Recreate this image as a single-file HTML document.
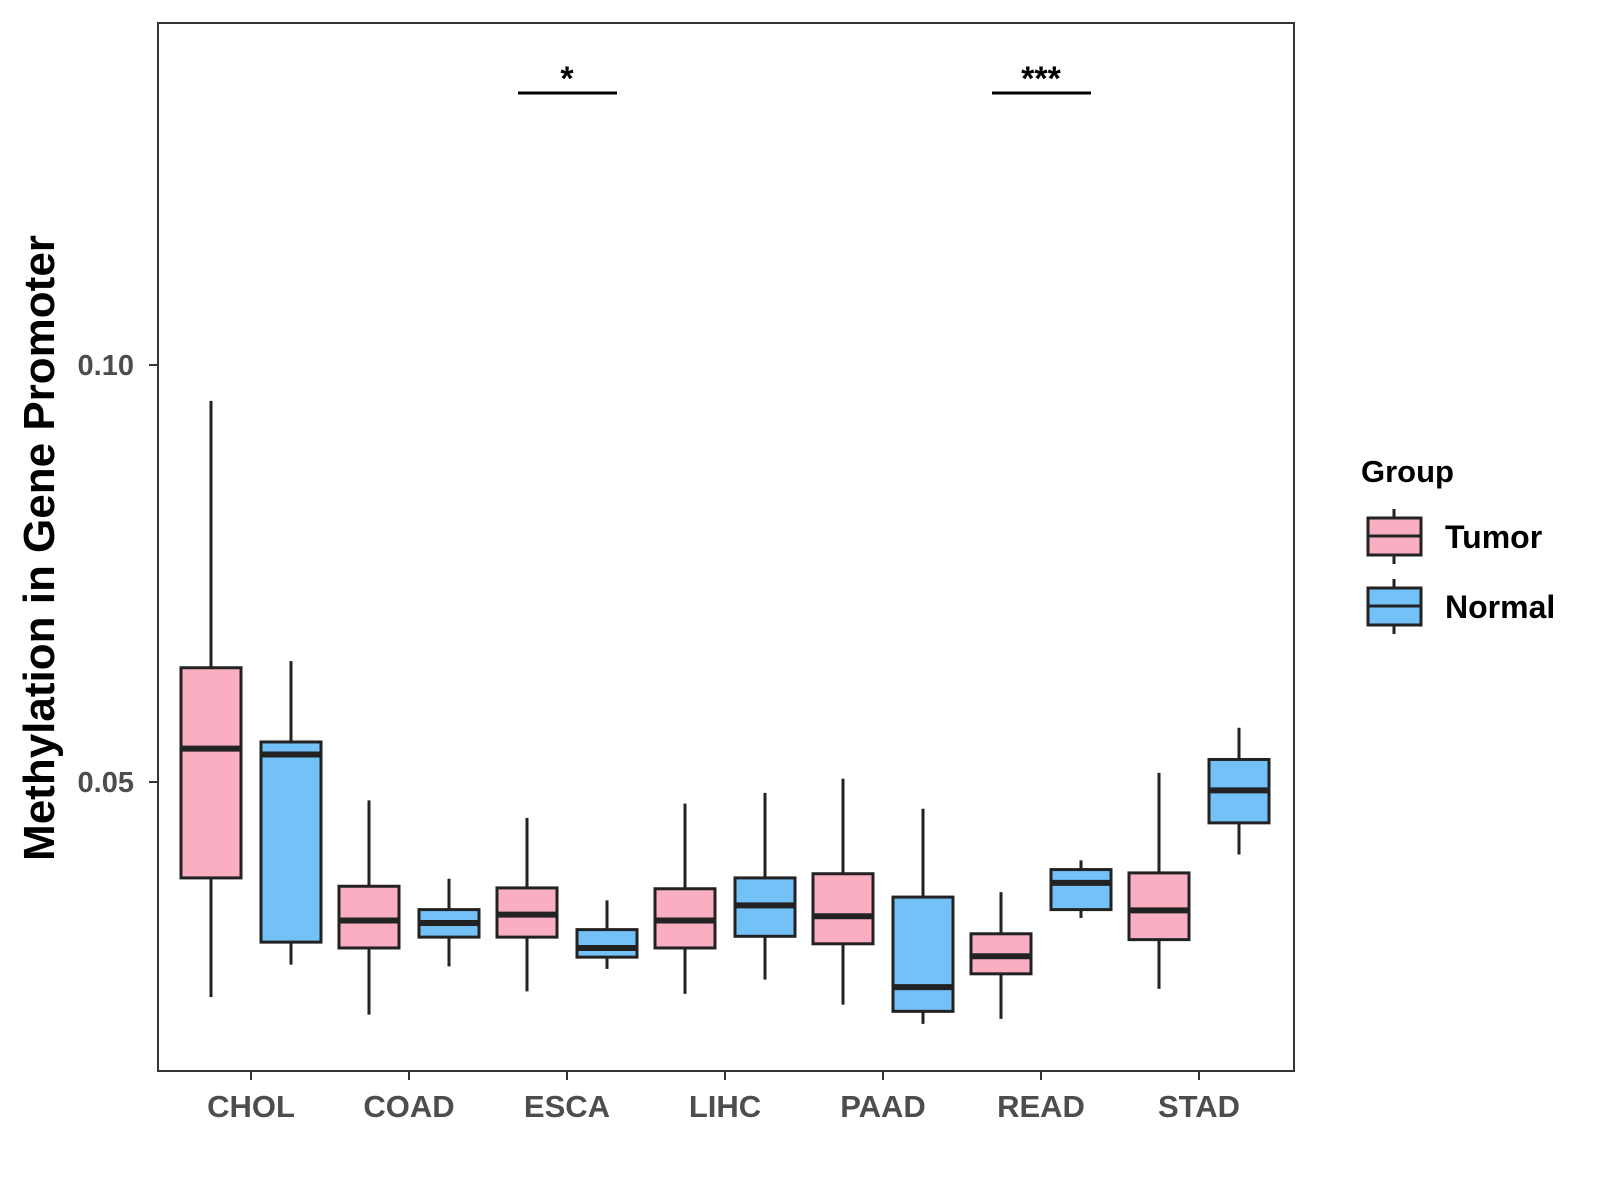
<!DOCTYPE html>
<html><head><meta charset="utf-8"><style>
html,body{margin:0;padding:0;background:#fff}
svg{display:block;font-family:"Liberation Sans",Arial,sans-serif;font-weight:bold}
</style></head><body>
<svg id="chart" width="1600" height="1200">
<rect x="158" y="23" width="1136" height="1048" fill="#fff" stroke="#333" stroke-width="2"/>
<g id="marks"></g>
<text transform="translate(54,548) rotate(-90)" text-anchor="middle" font-size="44" fill="#000">Methylation in Gene Promoter</text>
<text x="1361" y="482" font-size="31" fill="#000">Group</text>
</svg>
<script>
const categories=["CHOL","COAD","ESCA","LIHC","PAAD","READ","STAD"];
const groups=["Tumor","Normal"];
const colors=["#f9afc1","#74c1f8"];
// [whiskerHigh, q3, median, q1, whiskerLow]
const tumorStats=[[0.0957,0.0637,0.0540,0.0385,0.0242],[0.0478,0.0375,0.0334,0.0301,0.0221],[0.0457,0.0373,0.0341,0.0314,0.0249],[0.0474,0.0372,0.0334,0.0301,0.0246],[0.0504,0.0390,0.0339,0.0306,0.0233],[0.0368,0.0318,0.0291,0.0270,0.0216],[0.0511,0.0391,0.0346,0.0311,0.0252]];
const normalStats=[[0.0645,0.0548,0.0533,0.0308,0.0281],[0.0384,0.0347,0.0331,0.0314,0.0279],[0.0358,0.0323,0.0301,0.0290,0.0276],[0.0487,0.0385,0.0352,0.0315,0.0263],[0.0468,0.0362,0.0254,0.0225,0.0210],[0.0406,0.0395,0.0379,0.0347,0.0337],[0.0565,0.0527,0.0490,0.0451,0.0413]];
const yTicks=[0.05,0.10];
const yTickLabels=["0.05","0.10"];
const sigCategories=["ESCA","READ"];
const sigLabels=["*","***"];

const NS="http://www.w3.org/2000/svg";
const svg=document.getElementById('chart');
const g=document.getElementById('marks');
function y(v){return 782-(v-0.05)*8340;}
function x(i){return 251+i*158;}
function mk(tag,attrs,parent){const e=document.createElementNS(NS,tag);for(const k in attrs)e.setAttribute(k,attrs[k]);(parent||g).appendChild(e);return e;}
const off=[-40,40],bw=60;
[tumorStats,normalStats].forEach((stats,gi)=>{
  stats.forEach((s,i)=>{
    const cx=x(i)+off[gi];
    const grp=mk('g',{});
    
    
    mk('line',{x1:cx,x2:cx,y1:y(s[0]),y2:y(s[4]),stroke:'#222','stroke-width':3},grp);
    mk('rect',{x:cx-bw/2,y:y(s[1]),width:bw,height:y(s[3])-y(s[1]),fill:colors[gi],stroke:'#222','stroke-width':3},grp);
    mk('line',{x1:cx-bw/2,x2:cx+bw/2,y1:y(s[2]),y2:y(s[2]),stroke:'#222','stroke-width':6},grp);
  });
});
categories.forEach((c,i)=>{
  const t=mk('line',{x1:x(i),x2:x(i),y1:1071,y2:1080,stroke:'#333','stroke-width':2});
  
  
  const l=mk('text',{x:x(i),y:1117,'text-anchor':'middle','font-size':31,fill:'#4d4d4d'});
  l.textContent=c;
  
  
});
yTicks.forEach((v,i)=>{
  const t=mk('line',{x1:149,x2:158,y1:y(v),y2:y(v),stroke:'#333','stroke-width':2});
  
  
  const l=mk('text',{x:134,y:y(v)+10,'text-anchor':'end','font-size':29,fill:'#4d4d4d'});
  l.textContent=yTickLabels[i];
  
  
});
sigCategories.forEach((c,k)=>{
  const i=categories.indexOf(c);
  const b=mk('line',{x1:x(i)-49,x2:x(i)+50,y1:93,y2:93,stroke:'#000','stroke-width':3});
  
  
  const s=mk('text',{x:x(i),y:90,'text-anchor':'middle','font-size':34,fill:'#000'});
  s.textContent=sigLabels[k];
  
  
});
groups.forEach((gname,gi)=>{
  const top=518+gi*70;
  const lg=mk('g',{},svg);
  
  
  const cx=1394;
  mk('line',{x1:cx,x2:cx,y1:top-9,y2:top+46,stroke:'#222','stroke-width':3},lg);
  mk('rect',{x:1368,y:top,width:53,height:37,fill:colors[gi],stroke:'#222','stroke-width':3},lg);
  mk('line',{x1:1368,x2:1421,y1:top+18,y2:top+18,stroke:'#222','stroke-width':3},lg);
  const t=mk('text',{x:1445,y:top+30,'font-size':32,fill:'#000'},lg);
  t.textContent=gname;
});
</script>
</body></html>
